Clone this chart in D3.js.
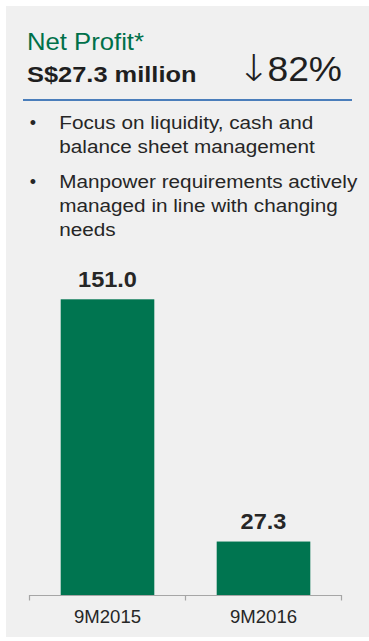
<!DOCTYPE html>
<html>
<head>
<meta charset="utf-8">
<script src="https://cdn.jsdelivr.net/npm/d3@7"></script>
<style>
  html, body { margin: 0; padding: 0; background: #ffffff; }
  svg { display: block; font-family: "Liberation Sans", Arial, sans-serif; }
</style>
</head>
<body>
<svg id="chart" width="369" height="641"></svg>
<script>
// Net profit by period (S$ million)
const periods = ["9M2015", "9M2016"];
const profit = [151.0, 27.3];
const valueLabels = ["151.0", "27.3"];

const titleText = "Net Profit*";
const headline = "S$27.3 million";
const changeArrow = "\u2193";
const changeText = "82%";
const bullets = [
  ["Focus on liquidity, cash and", "balance sheet management"],
  ["Manpower requirements actively", "managed in line with changing", "needs"]
];

const svg = d3.select("#chart");

// text placed at (x, y) with a slight horizontal widening of the glyphs
function label(parent, x, y, str, size, sx, attrs = {}) {
  const t = parent.append("text")
    .attr("transform", `translate(${x},${y}) scale(${sx},1)`)
    .attr("font-size", size)
    .text(str);
  Object.entries(attrs).forEach(([k, v]) => t.attr(k, v));
  return t;
}

// panel background
svg.append("rect")
  .attr("x", 6).attr("y", 6)
  .attr("width", 363).attr("height", 631)
  .attr("fill", "#f0f0f0");

// header
label(svg, 27, 50, titleText, 24, 1.07, { fill: "#00704a" });
label(svg, 27, 81.5, headline, 22.5, 1.13, { fill: "#1f1f1f", "font-weight": "bold" });

// change indicator: arrow + percentage in one line
const change = svg.append("text")
  .attr("transform", "translate(342,81) scale(1.08,1)")
  .attr("text-anchor", "end")
  .attr("fill", "#1f1f1f");
change.append("tspan")
  .attr("font-family", "DejaVu Sans")
  .attr("font-weight", 300)
  .attr("font-size", 37)
  .text(changeArrow);
change.append("tspan")
  .attr("dx", -3)
  .attr("font-size", 34.5)
  .text(changeText);

svg.append("line")
  .attr("x1", 23).attr("x2", 352)
  .attr("y1", 100).attr("y2", 100)
  .attr("stroke", "#4a7ebb")
  .attr("stroke-width", 2.2);

// bullet points
const bulletTop = [128.5, 187.5];
const lineGap = 24.2;
bullets.forEach((lines, i) => {
  label(svg, 33, bulletTop[i], "\u2022", 18, 1, { fill: "#262626", "text-anchor": "middle" });
  lines.forEach((ln, j) => {
    label(svg, 59.3, bulletTop[i] + j * lineGap, ln, 18.5, 1.12, { fill: "#262626" });
  });
});

// bar chart
const x = d3.scaleBand()
  .domain(periods)
  .range([29.5, 341.5])
  .paddingInner(0.4)
  .paddingOuter(0.2);

const y = d3.scaleLinear()
  .domain([0, 151.0])
  .range([595, 299.3]);

const g = svg.append("g");

g.selectAll("rect.bar")
  .data(periods)
  .join("rect")
  .attr("class", "bar")
  .attr("x", d => x(d))
  .attr("width", x.bandwidth())
  .attr("y", (d, i) => y(profit[i]))
  .attr("height", (d, i) => y(0) - y(profit[i]))
  .attr("fill", "#007550");

periods.forEach((d, i) => {
  label(g, x(d) + x.bandwidth() / 2, y(profit[i]) - 12.5, valueLabels[i], 22, 1.07, {
    fill: "#262626", "font-weight": "bold", "text-anchor": "middle"
  });
});

// category axis with boundary ticks
const axisG = svg.append("g");
axisG.append("line")
  .attr("x1", 29.5).attr("x2", 341.5)
  .attr("y1", 595.5).attr("y2", 595.5)
  .attr("stroke", "#a6a6a6")
  .attr("stroke-width", 1.2);

const bounds = [x.range()[0], (x.range()[0] + x.range()[1]) / 2, x.range()[1]];
axisG.selectAll("line.tick")
  .data(bounds)
  .join("line")
  .attr("class", "tick")
  .attr("x1", d => d).attr("x2", d => d)
  .attr("y1", 595).attr("y2", 600.5)
  .attr("stroke", "#a6a6a6")
  .attr("stroke-width", 1.2);

periods.forEach(d => {
  label(axisG, x(d) + x.bandwidth() / 2, 622.5, d, 17.5, 1.06, {
    fill: "#262626", "text-anchor": "middle"
  });
});
</script>
</body>
</html>
